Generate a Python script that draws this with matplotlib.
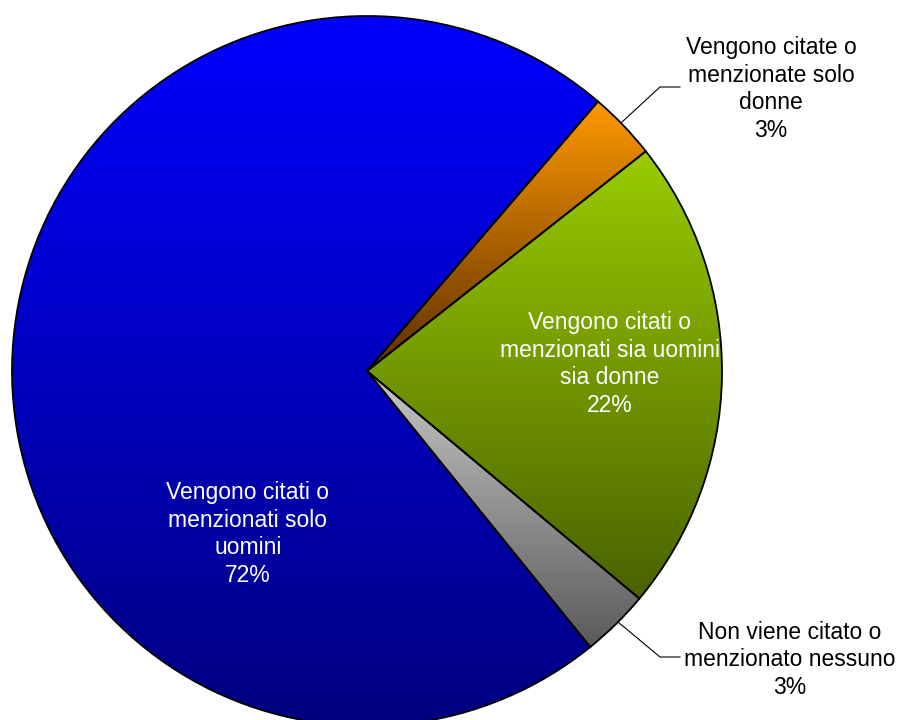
import numpy as np
import matplotlib
matplotlib.use("Agg")
import matplotlib.pyplot as plt
from matplotlib.colors import LinearSegmentedColormap

plt.rcParams["font.family"] = ["Liberation Sans", "DejaVu Sans"]

# shares in percent, clockwise from the top-right
labels = [
    "Vengono citate o\nmenzionate solo\ndonne",
    "Vengono citati o\nmenzionati sia uomini\nsia donne",
    "Non viene citato o\nmenzionato nessuno",
    "Vengono citati o\nmenzionati solo\nuomini",
]
values = [3.1, 21.7, 3.1, 72.1]
pct_text = ["3%", "22%", "3%", "72%"]

# gradient colours (top -> bottom) for each slice
grad_top = ["#ff9900", "#99cc00", "#c8c8c8", "#0000ff"]
grad_bottom = ["#5c2e00", "#4a6200", "#5a5a5a", "#000080"]

fig = plt.figure(figsize=(9.01, 7.2), dpi=100)
ax = fig.add_axes([0, 0, 1, 1])

cx, cy, r = 367, 720 - 371, 355

wedges, _ = ax.pie(
    values,
    startangle=49.4,
    counterclock=False,
    center=(cx, cy),
    radius=r,
    wedgeprops=dict(edgecolor="black", linewidth=1.3, facecolor="none"),
    frame=True,
)

# fill every wedge with a vertical gradient clipped to its shape
for w, c_top, c_bot in zip(wedges, grad_top, grad_bottom):
    ext = w.get_path().get_extents()
    cmap = LinearSegmentedColormap.from_list("g", [c_bot, c_top])
    grad = np.linspace(0, 1, 256).reshape(-1, 1)
    im = ax.imshow(
        grad,
        cmap=cmap,
        origin="lower",
        extent=[ext.x0, ext.x1, ext.y0, ext.y1],
        aspect="auto",
        zorder=1,
        interpolation="bilinear",
    )
    im.set_clip_path(w)
    w.set_zorder(2)

txt = dict(fontsize=16.5, ha="center", va="center", linespacing=1.25)

# labels inside the big slices
ax.text(248, 720 - 534, labels[3] + "\n" + pct_text[3], color="white", **txt)
ax.text(610, 720 - 364, labels[1] + "\n" + pct_text[1], color="white", **txt)

# outside labels with leader lines
ax.text(771, 720 - 89, labels[0] + "\n" + pct_text[0], color="black", **txt)
ax.plot([622, 660, 680], [720 - 122, 720 - 87, 720 - 87], color="black", lw=0.8, zorder=3)

ax.text(790, 720 - 660, labels[2] + "\n" + pct_text[2], color="black", **txt)
ax.plot([618, 660, 680], [720 - 622, 720 - 657, 720 - 657], color="black", lw=0.8, zorder=3)

ax.set_xlim(0, 901)
ax.set_ylim(0, 720)
ax.set_aspect("auto")
ax.axis("off")

fig.savefig("out.png", dpi=100)
